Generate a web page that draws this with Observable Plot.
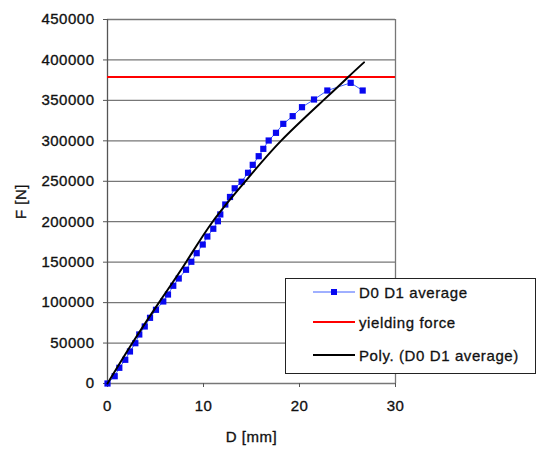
<!DOCTYPE html>
<html>
<head>
<meta charset="utf-8">
<script src="https://cdn.jsdelivr.net/npm/d3@7"></script>
<script src="https://cdn.jsdelivr.net/npm/@observablehq/plot@0.6"></script>
<style>
  html, body { margin: 0; padding: 0; background: #fff; }
  #wrap { position: relative; width: 538px; height: 449px; }
  #wrap svg text { stroke: #111; stroke-width: 0.35px; letter-spacing: 0.5px; }
  #legend {
    position: absolute; left: 285px; top: 278px; width: 251px; height: 96px;
    border: 1px solid #222; background: #fff; box-sizing: border-box;
    font-family: "Liberation Sans", Arial, sans-serif; font-size: 15px; color: #111;
    -webkit-text-stroke: 0.3px #111; letter-spacing: 0.6px;
  }
  .row { position: absolute; left: 0; height: 20px; display: flex; align-items: center; }
  .row svg { margin-left: 27px; }
  .row span { margin-left: 4px; white-space: nowrap; }
</style>
</head>
<body>
<div id="wrap"></div>
<script>
// Data
const dispD = [0, 0.75, 1.23, 1.85, 2.34, 2.9, 3.31, 3.88, 4.43, 5.05, 5.81, 6.30, 6.85, 7.42, 8.18, 8.73, 9.29, 9.92, 10.40, 11.02, 11.5, 11.75, 12.27, 12.76, 13.25, 13.97, 14.64, 15.13, 15.75, 16.23, 16.79, 17.55, 18.31, 19.29, 20.26, 21.51, 22.9, 25.33, 26.58];
const forceF = [0, 9000, 19400, 29300, 39600, 49800, 60600, 70500, 81200, 91100, 101400, 110000, 120800, 129800, 140600, 150500, 161100, 171800, 181700, 191300, 200600, 209000, 221300, 230600, 241300, 249400, 260500, 270300, 281000, 290100, 300400, 309900, 321000, 330500, 341600, 351100, 362200, 371700, 362200];
const polyD = [0, 2.59, 5.36, 8.18, 10.95, 14.36, 18.07, 22.48, 25.08, 26.72];
const polyF = [0, 50000, 100000, 150000, 200000, 250000, 300000, 350000, 379000, 397000];
const yieldingForce = 379000;
const xTicks = [0, 10, 20, 30];
const yTicks = [0, 50000, 100000, 150000, 200000, 250000, 300000, 350000, 400000, 450000];
const seriesNames = ["D0 D1 average", "yielding force", "Poly. (D0 D1 average)"];

const avg = dispD.map((d, i) => ({D: d, F: forceF[i]}));
const poly = polyD.map((d, i) => ({D: d, F: polyF[i]}));

const chart = Plot.plot({
  width: 538,
  height: 449,
  marginLeft: 107,
  marginRight: 143,
  marginTop: 19,
  marginBottom: 66,
  style: {fontFamily: "'Liberation Sans', Arial, sans-serif", fontSize: "15px", color: "#111", background: "#fff"},
  x: {domain: [0, 30]},
  y: {domain: [0, 450000]},
  marks: [
    Plot.ruleY(yTicks, {stroke: "#777", strokeWidth: 1.3}),
    Plot.ruleX([30], {stroke: "#777", strokeWidth: 1.3}),
    Plot.ruleX([0], {stroke: "#555", strokeWidth: 1.3}),
    Plot.axisX(xTicks, {tickSize: 4, tickPadding: 13, stroke: "#555", label: "D [mm]", labelAnchor: "center", labelArrow: "none", labelOffset: 58, tickFormat: d => String(d)}),
    Plot.axisY(yTicks, {tickSize: 4, tickPadding: 9, stroke: "#555", label: "F [N]", labelAnchor: "center", labelArrow: "none", labelOffset: 92, tickFormat: d => String(d)}),
    Plot.ruleY([yieldingForce], {stroke: "#ff0000", strokeWidth: 2}),
    Plot.line(avg, {x: "D", y: "F", stroke: "#4060ff", strokeWidth: 1}),
    Plot.dot(avg, {x: "D", y: "F", symbol: "square", r: 3.5, fill: "#0808f0", stroke: "none"}),
    Plot.line(poly, {x: "D", y: "F", stroke: "#000", strokeWidth: 2, curve: "natural"})
  ]
});
const wrap = document.getElementById("wrap");
wrap.appendChild(chart);

// Legend overlay
const legend = document.createElement("div");
legend.id = "legend";
const rowsTop = [3, 33, 66];
seriesNames.forEach((name, i) => {
  const row = document.createElement("div");
  row.className = "row";
  row.style.top = rowsTop[i] + "px";
  let sw;
  if (i === 0) {
    sw = '<svg width="42" height="12"><line x1="0" y1="6" x2="42" y2="6" stroke="#4060ff" stroke-width="1"/><rect x="18" y="3" width="6" height="6" fill="#0808f0"/></svg>';
  } else if (i === 1) {
    sw = '<svg width="42" height="12"><line x1="0" y1="6" x2="42" y2="6" stroke="#ff0000" stroke-width="2"/></svg>';
  } else {
    sw = '<svg width="42" height="12"><line x1="0" y1="6" x2="42" y2="6" stroke="#000" stroke-width="2"/></svg>';
  }
  row.innerHTML = sw + "<span>" + name + "</span>";
  legend.appendChild(row);
});
wrap.appendChild(legend);
</script>
</body>
</html>
